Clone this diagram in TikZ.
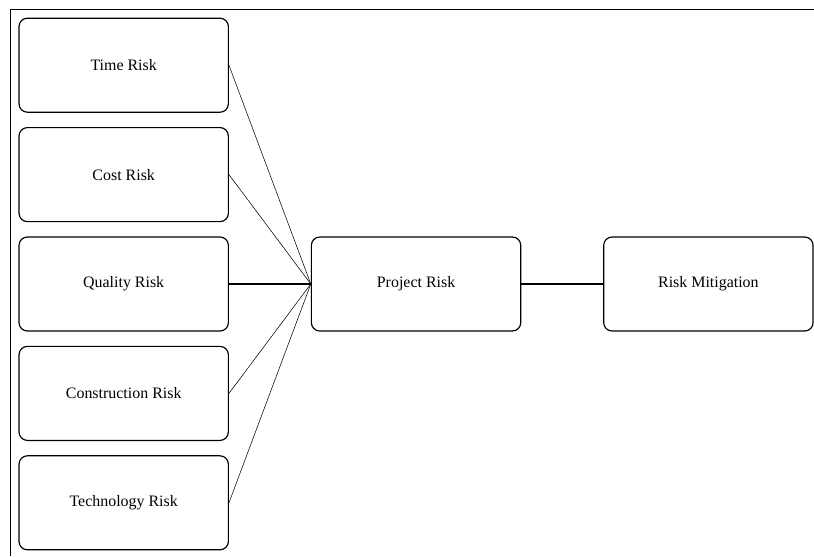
\documentclass[tikz,border=0pt]{standalone}
\usepackage{fontspec}
\setmainfont{Liberation Serif}
\usepackage{tikz}
\newcommand{\rsz}{\fontsize{13.6}{16}\selectfont}

\begin{document}
\begin{tikzpicture}[x=0.03cm, y=0.03cm, node distance = 3.282cm,
    riskbox/.style = {draw, line width=1pt, rounded corners=0.25cm,
      minimum width=6.28cm, minimum height=2.82cm, font=\rsz}]
    \useasboundingbox (0,0) rectangle (814,556);
    \draw[line width=0.8pt] (10,0) -- (10,546.5) -- (814,546.5);
    \node[riskbox] (time) at (123.7,490.8) {Time Risk};
    \foreach \i\j\t in {time/cost/Cost Risk, cost/quality/Quality Risk,
      quality/construction/Construction Risk, construction/technology/Technology Risk} {
      \node[riskbox, below of = \i] (\j) {\t};
    }
    \node[riskbox, right of = quality, node distance = 8.77cm] (project) {Project Risk};
    \node[riskbox, right of = project, node distance = 8.77cm] (mitigation) {Risk Mitigation};
    \foreach \i in {time, cost, construction, technology} {
      \draw[line width=0.45pt] (\i.east) -- (project.west);
    }
    \draw[line width=0.9pt] (quality) -- (project);
    \draw[line width=0.9pt] (project) -- (mitigation);
  \end{tikzpicture}
\end{document}
